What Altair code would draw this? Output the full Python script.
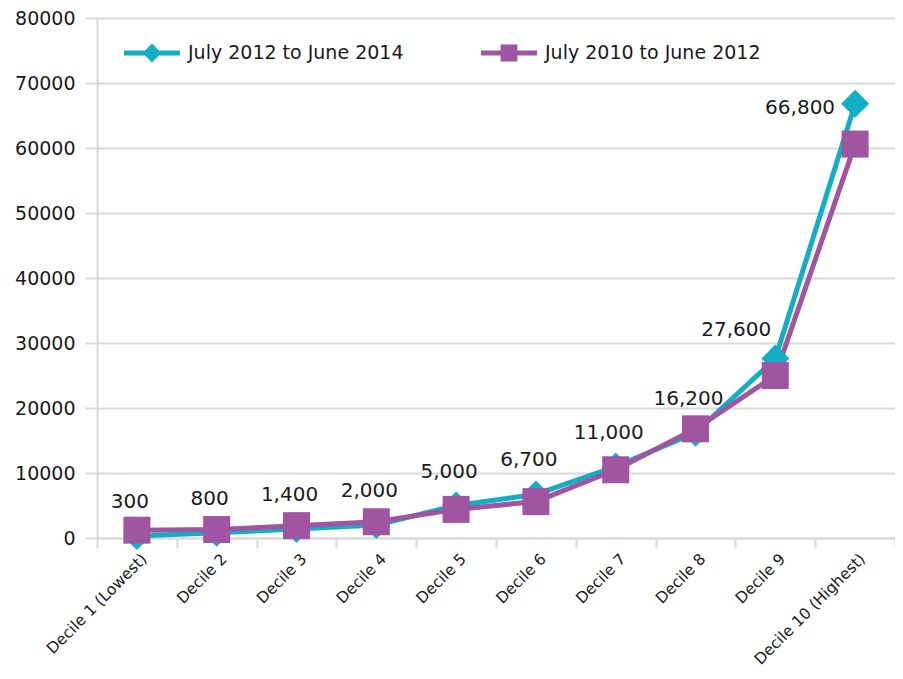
import altair as alt
import pandas as pd

deciles = ["Decile 1 (Lowest)", "Decile 2", "Decile 3", "Decile 4", "Decile 5",
           "Decile 6", "Decile 7", "Decile 8", "Decile 9", "Decile 10 (Highest)"]
series_names = ["July 2012 to June 2014", "July 2010 to June 2012"]
values_2012_2014 = [300, 800, 1400, 2000, 5000, 6700, 11000, 16200, 27600, 66800]
values_2010_2012 = [1200, 1300, 1900, 2500, 4400, 5600, 10500, 16800, 25000, 60600]
y_ticks = [0, 10000, 20000, 30000, 40000, 50000, 60000, 70000, 80000]
colors = ["#12AEC6", "#A055A2"]

rows = []
for d, v in zip(deciles, values_2012_2014):
    rows.append({"decile": d, "series": series_names[0], "value": v})
for d, v in zip(deciles, values_2010_2012):
    rows.append({"decile": d, "series": series_names[1], "value": v})
df = pd.DataFrame(rows)

FONT = "DejaVu Sans"
TXT = "#1a1a1a"
GRID = "#d9d9d9"

# legend symbols: line segment with marker
diamond_sym = "M-1,-0.09L1,-0.09L1,0.09L-1,0.09Z M0,-0.34L0.34,0L0,0.34L-0.34,0Z"
square_sym = "M-1,-0.09L1,-0.09L1,0.09L-1,0.09Z M-0.3,-0.3L0.3,-0.3L0.3,0.3L-0.3,0.3Z"

x_enc = alt.X("decile:N", sort=deciles,
              scale=alt.Scale(type="band", domain=deciles, paddingInner=0, paddingOuter=0),
              axis=alt.Axis(title=None, labelAngle=-45, labelFont=FONT, labelFontSize=15.5,
                            labelColor=TXT, tickBand="extent", tickSize=10, tickColor=GRID,
                            tickWidth=2, domainColor=GRID, domainWidth=2, grid=False,
                            labelOffset=2, labelPadding=3))
y_enc = alt.Y("value:Q",
              scale=alt.Scale(domain=[0, 80000], nice=False, zero=True),
              axis=alt.Axis(title=None, values=y_ticks, format="d", labelFont=FONT,
                            labelFontSize=19, labelColor=TXT, tickSize=12, tickColor=GRID,
                            tickWidth=2, domainColor=GRID, domainWidth=2, gridColor=GRID,
                            gridWidth=2, labelPadding=10))

color_scale = alt.Scale(domain=series_names, range=colors)
leg = alt.Legend(title=None, orient="none", legendX=27, legendY=7, direction="horizontal",
                 labelFont=FONT, labelFontSize=19, labelColor=TXT, labelLimit=400,
                 symbolSize=3136, symbolStrokeWidth=0, symbolOpacity=1,
                 columnPadding=77, labelOffset=8, padding=0)

base = alt.Chart(df)

legend_layer = base.mark_point(size=0, filled=True, opacity=1, strokeWidth=0).encode(
    x=x_enc, y=y_enc,
    color=alt.Color("series:N", scale=color_scale, legend=leg),
    shape=alt.Shape("series:N", scale=alt.Scale(domain=series_names, range=[diamond_sym, square_sym]),
                    legend=leg),
)

lines = base.mark_line(strokeWidth=5, strokeJoin="round").encode(
    x=x_enc, y=y_enc,
    color=alt.Color("series:N", scale=color_scale, legend=None),
    detail="series:N",
)

teal_pts = base.transform_filter(alt.datum.series == series_names[0]).mark_point(
    shape="diamond", filled=True, opacity=1, size=784, strokeWidth=0).encode(
    x=x_enc, y=y_enc, color=alt.Color("series:N", scale=color_scale, legend=None))

purple_pts = base.transform_filter(alt.datum.series == series_names[1]).mark_point(
    shape="square", filled=True, opacity=1, size=729, strokeWidth=0).encode(
    x=x_enc, y=y_enc, color=alt.Color("series:N", scale=color_scale, legend=None))

teal_only = base.transform_filter(alt.datum.series == series_names[0])

labels_low = teal_only.transform_filter(
    alt.FieldOneOfPredicate(field="decile", oneOf=deciles[:8])).mark_text(
    font=FONT, fontSize=20, color=TXT, dx=-7, dy=-34).encode(
    x=x_enc, y=y_enc, text=alt.Text("value:Q", format=","))

labels_d9 = teal_only.transform_filter(alt.datum.decile == deciles[8]).mark_text(
    font=FONT, fontSize=20, color=TXT, align="right", dx=-4, dy=-29).encode(
    x=x_enc, y=y_enc, text=alt.Text("value:Q", format=","))

labels_d10 = teal_only.transform_filter(alt.datum.decile == deciles[9]).mark_text(
    font=FONT, fontSize=20, color=TXT, align="right", dx=-20, dy=4).encode(
    x=x_enc, y=y_enc, text=alt.Text("value:Q", format=","))

chart = alt.layer(legend_layer, lines, teal_pts, purple_pts, labels_low, labels_d9, labels_d10).properties(
    width=798, height=520,
    autosize=alt.AutoSizeParams(type="none"),
    padding={"left": 89, "top": 10, "right": 0, "bottom": 133},
).configure_view(stroke=None).configure(background="white")

chart.save("out.html", embed_options={"renderer": "svg", "actions": False})
